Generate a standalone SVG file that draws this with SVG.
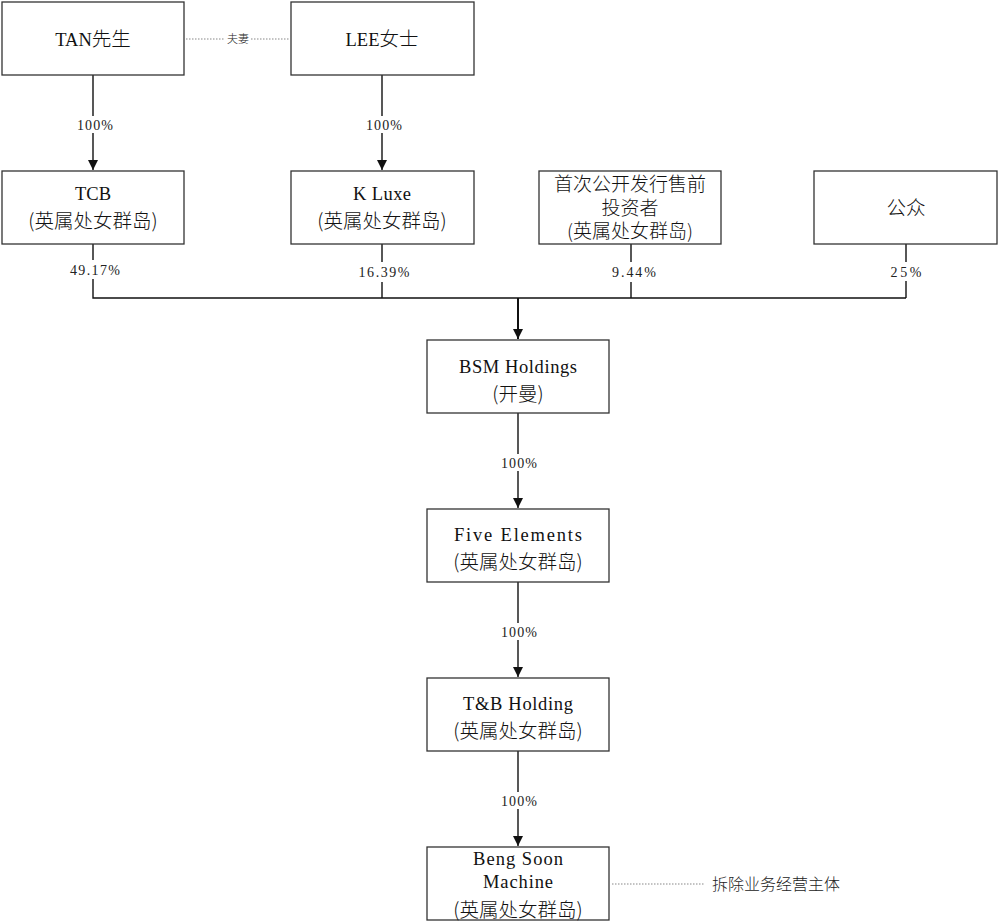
<svg xmlns="http://www.w3.org/2000/svg" width="998" height="922" viewBox="0 0 998 922">
<style>
.box{fill:#fff;stroke:#333;stroke-width:1.3}
.t{font-family:"Liberation Serif","Noto Sans CJK SC",serif;font-size:18.5px;fill:#111;text-anchor:middle}
.k{font-family:"Noto Sans CJK SC","Liberation Serif",sans-serif;font-size:19.5px;font-weight:300}
.l{font-family:"Liberation Serif","Noto Sans CJK SC",serif;font-size:14px;fill:#222;text-anchor:middle}
.c{stroke:#111;stroke-width:1.4;fill:none}
.d{stroke:#888;stroke-width:1.2;stroke-dasharray:1.5 1.5;fill:none}
</style>
<defs>
<marker id="b" markerWidth="11" markerHeight="10" refX="10" refY="5" orient="auto" markerUnits="userSpaceOnUse">
<path d="M0,0 L10,5 L0,10 Z" fill="#111"/>
</marker>
</defs>
<g id="connectors">
<path class="d" d="M186,39 H225 M251,39 H290"/>
<text class="l k" x="238" y="43" style="font-size:11px">夫妻</text>
<path class="c" d="M93,75 V170" marker-end="url(#b)"/>
<path class="c" d="M382,75 V170" marker-end="url(#b)"/>
<path class="c" d="M93,244 V260 M93,279 V298 H906 M906,281 V298 M906,244 V262 M382,244 V262 M382,282 V298 M631,244 V262 M631,282 V298"/>
<path class="c" d="M518,298 V339" style="stroke-width:2" marker-end="url(#b)"/>
<path class="c" d="M518,413 V508" marker-end="url(#b)"/>
<path class="c" d="M518,582 V677" marker-end="url(#b)"/>
<path class="c" d="M518,751 V846" marker-end="url(#b)"/>
<rect x="72" y="116" width="44" height="17" fill="#fff"/>
<rect x="361" y="116" width="44" height="17" fill="#fff"/>
<rect x="497" y="454" width="44" height="17" fill="#fff"/>
<rect x="497" y="623" width="44" height="17" fill="#fff"/>
<rect x="497" y="792" width="44" height="17" fill="#fff"/>
<text class="l" x="95" y="130" textLength="36" lengthAdjust="spacing">100%</text>
<text class="l" x="384" y="130" textLength="36" lengthAdjust="spacing">100%</text>
<text class="l" x="95" y="275" textLength="50" lengthAdjust="spacing">49.17%</text>
<text class="l" x="384" y="277" textLength="51" lengthAdjust="spacing">16.39%</text>
<text class="l" x="634" y="277" textLength="44" lengthAdjust="spacing">9.44%</text>
<text class="l" x="906" y="277" textLength="31" lengthAdjust="spacing">25%</text>
<text class="l" x="519" y="468" textLength="36" lengthAdjust="spacing">100%</text>
<text class="l" x="519" y="637" textLength="36" lengthAdjust="spacing">100%</text>
<text class="l" x="519" y="806" textLength="36" lengthAdjust="spacing">100%</text>
<path class="d" d="M612,884 H705"/>
<text class="l k" x="712" y="890" style="text-anchor:start;font-size:16px">拆除业务经营主体</text>
</g>
<g id="tan"><rect class="box" x="2" y="2" width="182" height="73"/><text class="t" x="93" y="46">TAN<tspan class="k">先生</tspan></text></g>
<g id="lee"><rect class="box" x="291" y="2" width="183" height="73"/><text class="t" x="382" y="46">LEE<tspan class="k">女士</tspan></text></g>
<g id="tcb"><rect class="box" x="2" y="171" width="182" height="73"/><text class="t"><tspan x="93" y="200">TCB</tspan><tspan class="k" x="93" y="228">(英属处女群岛)</tspan></text></g>
<g id="kluxe"><rect class="box" x="291" y="171" width="183" height="73"/><text class="t"><tspan x="382" y="200" textLength="58" lengthAdjust="spacing">K Luxe</tspan><tspan class="k" x="382" y="228">(英属处女群岛)</tspan></text></g>
<g id="ipo"><rect class="box" x="539" y="171" width="182" height="73"/><text class="t k" style="font-size:19px"><tspan x="630" y="191">首次公开发行售前</tspan><tspan x="630" y="214.5">投资者</tspan><tspan x="630" y="238">(英属处女群岛)</tspan></text></g>
<g id="public"><rect class="box" x="814" y="171" width="183" height="73"/><text class="t k" x="906" y="215">公众</text></g>
<g id="bsm"><rect class="box" x="427" y="340" width="182" height="73"/><text class="t"><tspan x="518" y="373" textLength="118" lengthAdjust="spacing">BSM Holdings</tspan><tspan class="k" x="518" y="401">(开曼)</tspan></text></g>
<g id="five"><rect class="box" x="427" y="509" width="182" height="73"/><text class="t"><tspan x="518" y="541" textLength="128" lengthAdjust="spacing">Five Elements</tspan><tspan class="k" x="518" y="569">(英属处女群岛)</tspan></text></g>
<g id="tb"><rect class="box" x="427" y="678" width="182" height="73"/><text class="t"><tspan x="518" y="710" textLength="110" lengthAdjust="spacing">T&amp;B Holding</tspan><tspan class="k" x="518" y="738">(英属处女群岛)</tspan></text></g>
<g id="beng"><rect class="box" x="427" y="847" width="182" height="73"/><text class="t"><tspan x="518" y="865" textLength="90" lengthAdjust="spacing">Beng Soon</tspan><tspan x="518" y="888" textLength="70" lengthAdjust="spacing">Machine</tspan><tspan class="k" x="518" y="917">(英属处女群岛)</tspan></text></g>
</svg>
